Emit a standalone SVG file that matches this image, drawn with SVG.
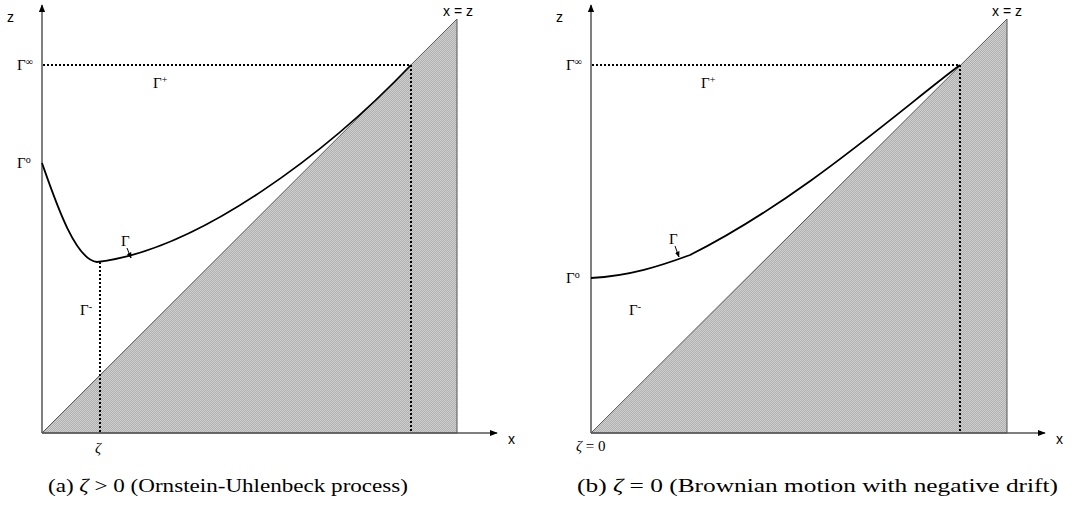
<svg xmlns="http://www.w3.org/2000/svg" width="1072" height="510" viewBox="0 0 1072 510">
<style>
.ax{stroke:#555;stroke-width:1.5;fill:none}
.tri{fill:url(#hatch);stroke:#555;stroke-width:1}
.dot{stroke:#000;stroke-width:2;stroke-dasharray:2,2;fill:none}
.crv{stroke:#000;stroke-width:1.8;fill:none}
.sans{font-family:"Liberation Sans",Arial,sans-serif;font-size:14px;fill:#000}
.g{font-family:"Liberation Serif","Times New Roman",serif;font-size:15px;fill:#000}
.sup{font-size:10px}
.cap{font-family:"Liberation Serif","Times New Roman",serif;font-size:18px;fill:#000}
</style>
<defs>
<pattern id="hatch" width="2" height="2" patternUnits="userSpaceOnUse">
<rect width="2" height="2" fill="#cfcfcf"/>
<path d="M-0.5,0.5 L0.5,-0.5 M0,2 L2,0 M1.5,2.5 L2.5,1.5" stroke="#9a9a9a" stroke-width="0.6"/>
</pattern>
<marker id="ah" viewBox="0 0 10 10" refX="9" refY="5" markerWidth="8" markerHeight="8" markerUnits="userSpaceOnUse" orient="auto">
<path d="M0,1 L10,5 L0,9 z" fill="#000"/>
</marker>
<marker id="sa" viewBox="0 0 10 10" refX="9" refY="5" markerWidth="6" markerHeight="6" markerUnits="userSpaceOnUse" orient="auto">
<path d="M0,1 L10,5 L0,9 z" fill="#000"/>
</marker>
</defs>

<g id="panel-a">
<polygon class="tri" points="42,433 457,19 457,433"/>
<g id="connectors-a">
<line class="ax" x1="42" y1="433" x2="42" y2="5" marker-end="url(#ah)"/>
<line class="ax" x1="42" y1="433" x2="497" y2="433" marker-end="url(#ah)"/>
<line class="dot" x1="43" y1="65" x2="411" y2="65"/>
<line class="dot" x1="411" y1="65" x2="411" y2="433"/>
<line class="dot" x1="100" y1="262" x2="100" y2="433"/>
<path class="crv" d="M42,163 C55,200 75,260 97,262 C200,250 330,150 411,65"/>
<line x1="127" y1="248" x2="131" y2="258" stroke="#000" stroke-width="1" marker-end="url(#sa)"/>
</g>
<text class="sans" x="7" y="22">z</text>
<text class="sans" x="443" y="16">x = z</text>
<text class="sans" x="508" y="444">x</text>
<text class="g" x="17" y="70">Γ<tspan class="sup" dy="-5">∞</tspan></text>
<text class="g" x="153" y="88">Γ<tspan class="sup" dy="-5">+</tspan></text>
<text class="g" x="17" y="168">Γ<tspan class="sup" dy="-5">o</tspan></text>
<text class="g" x="121" y="246">Γ</text>
<text class="g" x="80" y="315">Γ<tspan class="sup" dy="-5">-</tspan></text>
<text class="g" x="95" y="453" font-style="italic">ζ</text>
<text class="cap" x="48" y="492" textLength="360" lengthAdjust="spacingAndGlyphs">(a) <tspan font-style="italic">ζ</tspan> &gt; 0 (Ornstein-Uhlenbeck process)</text>
</g>

<g id="panel-b">
<polygon class="tri" points="591,433 1007,19 1007,433"/>
<g id="connectors-b">
<line class="ax" x1="591" y1="433" x2="591" y2="5" marker-end="url(#ah)"/>
<line class="ax" x1="591" y1="433" x2="1045" y2="433" marker-end="url(#ah)"/>
<line class="dot" x1="592" y1="65" x2="960" y2="65"/>
<line class="dot" x1="960" y1="65" x2="960" y2="433"/>
<path class="crv" d="M591,278 C630,276 660,266 690,255 C800,200 900,110 960,65"/>
<line x1="675" y1="246" x2="679" y2="257" stroke="#000" stroke-width="1" marker-end="url(#sa)"/>
</g>
<text class="sans" x="556" y="22">z</text>
<text class="sans" x="992" y="16">x = z</text>
<text class="sans" x="1056" y="444">x</text>
<text class="g" x="566" y="70">Γ<tspan class="sup" dy="-5">∞</tspan></text>
<text class="g" x="701" y="88">Γ<tspan class="sup" dy="-5">+</tspan></text>
<text class="g" x="566" y="283">Γ<tspan class="sup" dy="-5">o</tspan></text>
<text class="g" x="669" y="244">Γ</text>
<text class="g" x="629" y="315">Γ<tspan class="sup" dy="-5">-</tspan></text>
<text class="g" x="576" y="451" font-size="12px"><tspan font-style="italic">ζ</tspan> = 0</text>
<text class="cap" x="577" y="492" textLength="481" lengthAdjust="spacingAndGlyphs">(b) <tspan font-style="italic">ζ</tspan> = 0 (Brownian motion with negative drift)</text>
</g>
</svg>
